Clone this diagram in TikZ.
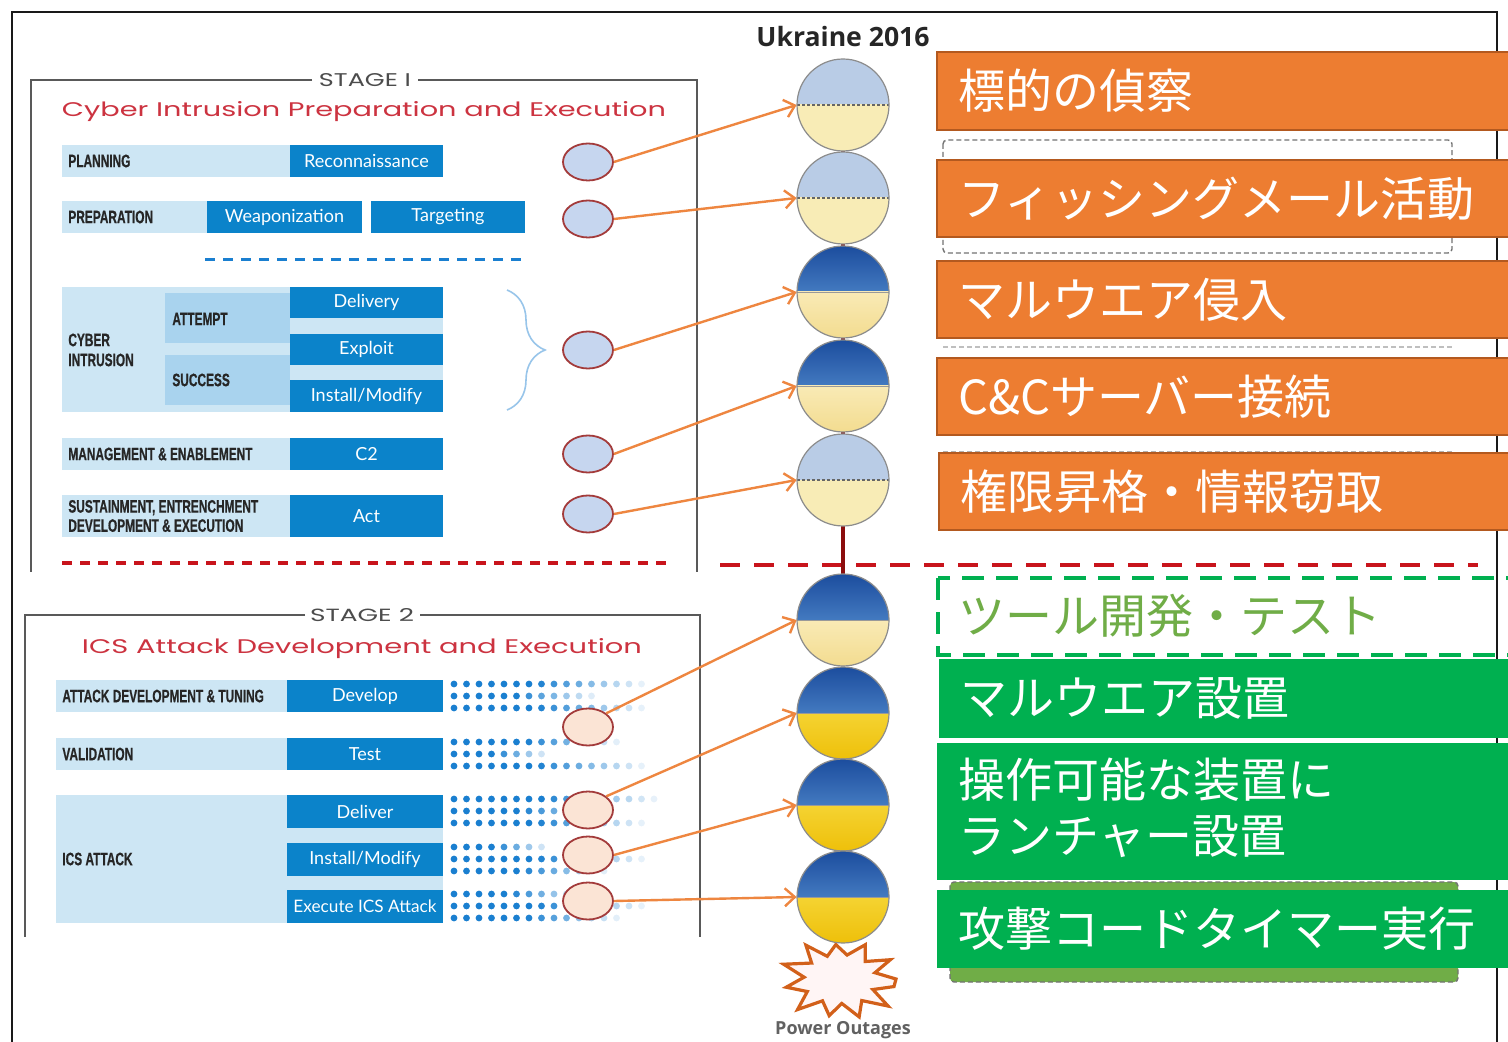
\documentclass[tikz,border=0pt]{standalone}
\usepackage{fontspec}
\usepackage{graphicx}
\usetikzlibrary{arrows.meta,shapes.geometric,decorations.pathreplacing}

\newfontfamily\jpfont{Noto Sans CJK JP}
\newfontfamily\gillfont{Lato}
\newfontfamily\condfont[FakeStretch=0.66,FakeBold=0.6]{Liberation Sans}
\newfontfamily\techfont{Poppins}
\newfontfamily\headfont{Open Sans}

\definecolor{lbar}{HTML}{CDE6F4}
\definecolor{mbar}{HTML}{A9D3EE}
\definecolor{dboxc}{HTML}{0B83CA}
\definecolor{dotblue}{HTML}{1A7FD0}
\definecolor{cirA}{HTML}{C6D6EF}
\definecolor{cirB}{HTML}{FBE4D5}
\definecolor{cirEdge}{HTML}{A33B3B}
\definecolor{arrowc}{HTML}{EE8640}
\definecolor{redt}{HTML}{CC3340}
\definecolor{reddash}{HTML}{C8141C}
\definecolor{spinec}{HTML}{8B0D0D}
\definecolor{orangeF}{HTML}{ED7D31}
\definecolor{orangeD}{HTML}{B3591F}
\definecolor{greenF}{HTML}{00B050}
\definecolor{lgreen}{HTML}{70AD47}
\definecolor{pblue}{HTML}{B9CCE6}
\definecolor{pyellow}{HTML}{F8ECB6}
\definecolor{dblueA}{HTML}{1C4D9E}
\definecolor{dblueB}{HTML}{6AA6E2}
\definecolor{yelA}{HTML}{FBE65A}
\definecolor{yelB}{HTML}{EEC00A}
\definecolor{creamA}{HTML}{FFF8DA}
\definecolor{creamB}{HTML}{F3DC90}
\definecolor{starc}{HTML}{D2601A}

% one row of fading dots
\newcommand\dotrow[3]{%
  \foreach \i in {1,...,#3}{%
    \pgfmathsetmacro\op{max(0.08,min(1,1.7*(1-(\i-1)/#3)))}%
    \fill[dotblue, opacity=\op] ({#1+12.5*(\i-1)},#2) circle (1.7pt);
  }}

% two coloured halves of a globe, its equator and its rim
\newcommand\globehalves[6]{%
  \begin{scope}\clip (#2-50,#3-50) rectangle (#2+50,#3);
    \path[#4] (#2,#3) circle (23pt);\end{scope}
  \begin{scope}\clip (#2-50,#3) rectangle (#2+50,#3+50);
    \path[#5] (#2,#3) circle (23pt);\end{scope}
  \draw[#6] (#2-46,#3) -- (#2+46,#3);
  \draw[globeedge] (#1.center) circle (23pt);
}

\tikzset{
  lbl/.style={font=\condfont\bfseries\fontsize{9}{10}\selectfont, text=black!85, inner sep=0, anchor=west, align=left},
  dbox/.style={fill=dboxc, text=white, font=\gillfont\fontsize{9}{10}\selectfont, inner sep=0, minimum width=76.5pt, minimum height=16pt},
  cirone/.style={ellipse, fill=cirA, draw=cirEdge, line width=0.9pt, minimum width=25pt, minimum height=18.5pt, inner sep=0},
  cirtwo/.style={ellipse, fill=cirB, draw=cirEdge, line width=0.9pt, minimum width=25pt, minimum height=18.5pt, inner sep=0},
  globe/.style={circle, minimum size=46pt, inner sep=0},
  globeedge/.style={draw=black!45, line width=0.6pt},
  conn/.style={draw=arrowc, line width=1.2pt, -{Straight Barb[length=5pt,width=9pt]}},
  stageline/.style={draw=black!65, line width=1pt},
  stagelbl/.style={font=\techfont\fontsize{7}{8}\selectfont, text=black!70, inner sep=0, fill=white, inner xsep=2pt},
  titlered/.style={font=\techfont\fontsize{10}{12}\selectfont, text=redt, inner sep=0, anchor=base},
  obox/.style={fill=orangeF, draw=orangeD, line width=1pt},
  jp/.style={font=\jpfont\fontsize{23.5}{28}\selectfont, text=white, anchor=west, inner sep=0, align=left},
  graydash/.style={draw=black!55, line width=0.7pt, dash pattern=on 2.5pt off 1.5pt, rounded corners=2pt},
  pale/.style={fill=pblue},
  paley/.style={fill=pyellow},
  darkb/.style={top color=dblueA, bottom color=dblueB},
  yel/.style={top color=yelA, bottom color=yelB},
  cream/.style={top color=creamA, bottom color=creamB},
  dotted eq/.style={draw=black!60, line width=0.8pt, dash pattern=on 1.5pt off 1pt},
  plain eq/.style={draw=black!40, line width=0.4pt},
}

\begin{document}
\begin{tikzpicture}[x=0.5pt,y=-0.5pt]
\useasboundingbox (0,0) rectangle (1508,1042);
\clip (0,0) rectangle (1508,1042);
\fill[white] (0,0) rectangle (1508,1042);

% outer frame
\draw[line width=1.4pt, black!90] (12,1070) -- (12,12) -- (1497,12) -- (1497,1070);

\node[font=\headfont\bfseries\fontsize{13.3}{15}\selectfont, text=black!85] (ukr) at (843,37) {Ukraine 2016};

% ---------- stage 1 panel ----------
\draw[stageline] (312,80) -- (31,80) -- (31,572);
\draw[stageline] (418,80) -- (697,80) -- (697,572);
\node[stagelbl] (stA) at (365,80) {\resizebox{46pt}{6.5pt}{STAGE I}};
\node[titlered] (titleA) at (364,117) {\resizebox{302pt}{7.5pt}{Cyber Intrusion Preparation and Execution}};

\fill[lbar] (62,145) rectangle (290,177);
\node[dbox] (recon) at (366.5,161) {Reconnaissance};
\node[lbl] (planning) at (68,161) {PLANNING};

\fill[lbar] (62,201) rectangle (207,233);
\node[dbox, minimum width=77.5pt] (weapon) at (284.5,217) {Weaponization};
\node[dbox, minimum width=77pt] (target) at (448,217) {Targeting};
\node[lbl] (prep) at (68,217) {PREPARATION};

\draw[draw=dotblue, line width=1.5pt, dash pattern=on 5pt off 4pt] (205,260) -- (527,260);

\fill[lbar] (62,287) rectangle (443,412);
\fill[mbar] (165,293) rectangle (290,343);
\fill[mbar] (165,355) rectangle (290,405);
\node[dbox, minimum height=15.5pt] (deliv) at (366.5,302.5) {Delivery};
\node[dbox, minimum height=15.5pt] (exploit) at (366.5,349.5) {Exploit};
\node[dbox] (instA) at (366.5,396) {Install/Modify};
\node[lbl, font=\condfont\bfseries\fontsize{9}{10}\selectfont] (cyber) at (68,350) {CYBER\\INTRUSION};
\node[lbl] (attempt) at (172,319) {ATTEMPT};
\node[lbl] (success) at (172,380) {SUCCESS};

\draw[draw=dotblue!45, line width=0.8pt, decorate, decoration={brace, amplitude=19pt}] (507,290) -- (507,410);

\fill[lbar] (62,438) rectangle (290,470);
\node[dbox] (ctwo) at (366.5,454) {C2};
\node[lbl] (mgmt) at (68,454) {MANAGEMENT \& ENABLEMENT};

\fill[lbar] (62,495) rectangle (290,537);
\node[dbox, minimum height=21pt] (act) at (366.5,516) {Act};
\node[lbl, font=\condfont\bfseries\fontsize{9}{9.6}\selectfont] (sust) at (68,516) {SUSTAINMENT, ENTRENCHMENT\\DEVELOPMENT \& EXECUTION};

\node[cirone] (c1) at (588,162) {};
\node[cirone] (c2) at (588,219) {};
\node[cirone] (c3) at (588,350) {};
\node[cirone] (c4) at (588,454) {};
\node[cirone] (c5) at (588,514) {};

% stage divider
\draw[draw=reddash, line width=2pt, dash pattern=on 5pt off 4pt] (62,563) -- (668,563);
\draw[draw=reddash, line width=2.2pt, dash pattern=on 10pt off 7pt] (720,565) -- (1478,565);

% ---------- stage 2 panel ----------
\draw[stageline] (305,615) -- (25,615) -- (25,937);
\draw[stageline] (420,615) -- (700,615) -- (700,937);
\node[stagelbl] (stB) at (362,615) {\resizebox{52pt}{6.5pt}{STAGE 2}};
\node[titlered] (titleB) at (362,653) {\resizebox{280pt}{7.5pt}{ICS Attack Development and Execution}};

\fill[lbar] (56,680) rectangle (287,712);
\node[dbox, minimum width=78pt] (develop) at (365,696) {Develop};
\node[lbl] (adt) at (62,696) {ATTACK DEVELOPMENT \& TUNING};

\fill[lbar] (56,738) rectangle (287,770);
\node[dbox, minimum width=78pt] (test) at (365,754) {Test};
\node[lbl] (valid) at (62,754) {VALIDATION};

\fill[lbar] (56,795) rectangle (443,923);
\node[dbox, minimum width=78pt, minimum height=16.5pt] (deliver) at (365,811.5) {Deliver};
\node[dbox, minimum width=78pt, minimum height=16.5pt] (instB) at (365,859.5) {Install/Modify};
\node[dbox, minimum width=78pt, minimum height=16.5pt, font=\gillfont\fontsize{8.6}{10}\selectfont] (exec) at (365,906.5) {Execute ICS Attack};
\node[lbl] (icsatk) at (62,859) {ICS ATTACK};

\dotrow{454}{684}{16}\dotrow{454}{696}{12}\dotrow{454}{708}{16}
\dotrow{454}{742}{14}\dotrow{454}{754}{8}\dotrow{454}{766}{16}
\dotrow{454}{799}{17}\dotrow{454}{811}{13}\dotrow{454}{823}{16}
\dotrow{454}{847}{8}\dotrow{454}{859}{16}\dotrow{454}{871}{13}
\dotrow{454}{894}{11}\dotrow{454}{906}{16}\dotrow{454}{918}{14}

\node[cirtwo] (c6) at (588,727) {};
\node[cirtwo] (c7) at (588,810) {};
\node[cirtwo] (c8) at (588,855) {};
\node[cirtwo] (c9) at (588,901) {};

% ---------- globe column ----------
\node[globe] (g1) at (843,105) {};
\node[globe] (g2) at (843,198) {};
\node[globe] (g3) at (843,292) {};
\node[globe] (g4) at (843,386) {};
\node[globe] (g5) at (843,480) {};
\node[globe] (g6) at (843,620) {};
\node[globe] (g7) at (843,713) {};
\node[globe] (g8) at (843,805) {};
\node[globe] (g9) at (843,897) {};

\draw[draw=spinec, line width=1.8pt] (g1.center) -- (g6.center);

% explosion
\draw[draw=starc, line width=1.6pt, fill=red!4!white, line join=miter]
  (840+56,979)
  \foreach \a/\r in {14/36,28/57,44/35,62/54,78/34,95/48,112/34,126/58,142/36,160/60,176/36,192/55,208/37,225/60,240/35,258/52,273/34,290/56,306/37,322/61,336/36,349/55}
  { -- ({840+\r*cos(\a)},{979-0.72*\r*sin(\a)}) } -- cycle;
\node[font=\headfont\bfseries\fontsize{9}{10}\selectfont, text=black!62, inner sep=0] (outage) at (843,1030) {Power Outages};

\globehalves{g1}{843}{105}{pale}{paley}{dotted eq}
\globehalves{g2}{843}{198}{pale}{paley}{dotted eq}
\globehalves{g3}{843}{292}{darkb}{cream}{plain eq}
\globehalves{g4}{843}{386}{darkb}{cream}{plain eq}
\globehalves{g5}{843}{480}{pale}{paley}{dotted eq}
\globehalves{g6}{843}{620}{darkb}{cream}{plain eq}
\globehalves{g7}{843}{713}{darkb}{yel}{plain eq}
\globehalves{g8}{843}{805}{darkb}{yel}{plain eq}
\globehalves{g9}{843}{897}{darkb}{yel}{plain eq}

% ---------- connectors ----------
\draw[conn] (c1.east) -- (g1.west);
\draw[conn] (c2.east) -- (g2.west);
\draw[conn] (c3.east) -- (g3.west);
\draw[conn] (c4.east) -- (g4.west);
\draw[conn] (c5.east) -- (g5.west);
\draw[conn] (c6.north east) -- (g6.west);
\draw[conn] (c7.north east) -- (g7.west);
\draw[conn] (c8.east) -- (g8.west);
\draw[conn] (c9.east) -- (g9.west);

% ---------- phase labels ----------
\draw[obox] (937,52) rectangle (1530,130);
\node[jp] (pA) at (958,91) {標的の偵察};

\draw[graydash] (943,140) rectangle (1452,253);
\draw[obox] (937,160) rectangle (1530,237);
\node[jp] (pB) at (958,198.5) {フィッシングメール活動};

\draw[obox] (937,261) rectangle (1530,338);
\node[jp] (pC) at (958,299.5) {マルウエア侵入};

\draw[draw=black!25, line width=0.7pt, dash pattern=on 2.5pt off 1.5pt] (943,347) -- (1452,347);
\draw[obox] (937,358) rectangle (1530,435);
\node[jp] (pD) at (958,396.5) {C\&Cサーバー接続};

\draw[draw=black!30, line width=0.7pt, dash pattern=on 2.5pt off 1.5pt] (943,452) -- (1452,452);
\draw[obox] (939,453) rectangle (1530,530);
\node[jp] (pE) at (960,491.5) {権限昇格・情報窃取};

\draw[draw=greenF, line width=1.6pt, dash pattern=on 11pt off 6pt] (938,578) rectangle (1530,655);
\node[jp, text=lgreen] (pF) at (958,616) {ツール開発・テスト};

\fill[greenF] (939,659) rectangle (1530,738);
\node[jp] (pG) at (960,698.5) {マルウエア設置};

\fill[greenF] (937,743) rectangle (1530,880);
\node[jp] (pH) at (958,808) {操作可能な装置に\\ランチャー設置};

\draw[fill=lgreen, draw=black!55, line width=0.7pt, dash pattern=on 2.5pt off 1.5pt, rounded corners=2pt] (950,882) rectangle (1458,982);
\fill[greenF] (937,890) rectangle (1530,968);
\node[jp] (pI) at (958,929) {攻撃コードタイマー実行};
\end{tikzpicture}
\end{document}
